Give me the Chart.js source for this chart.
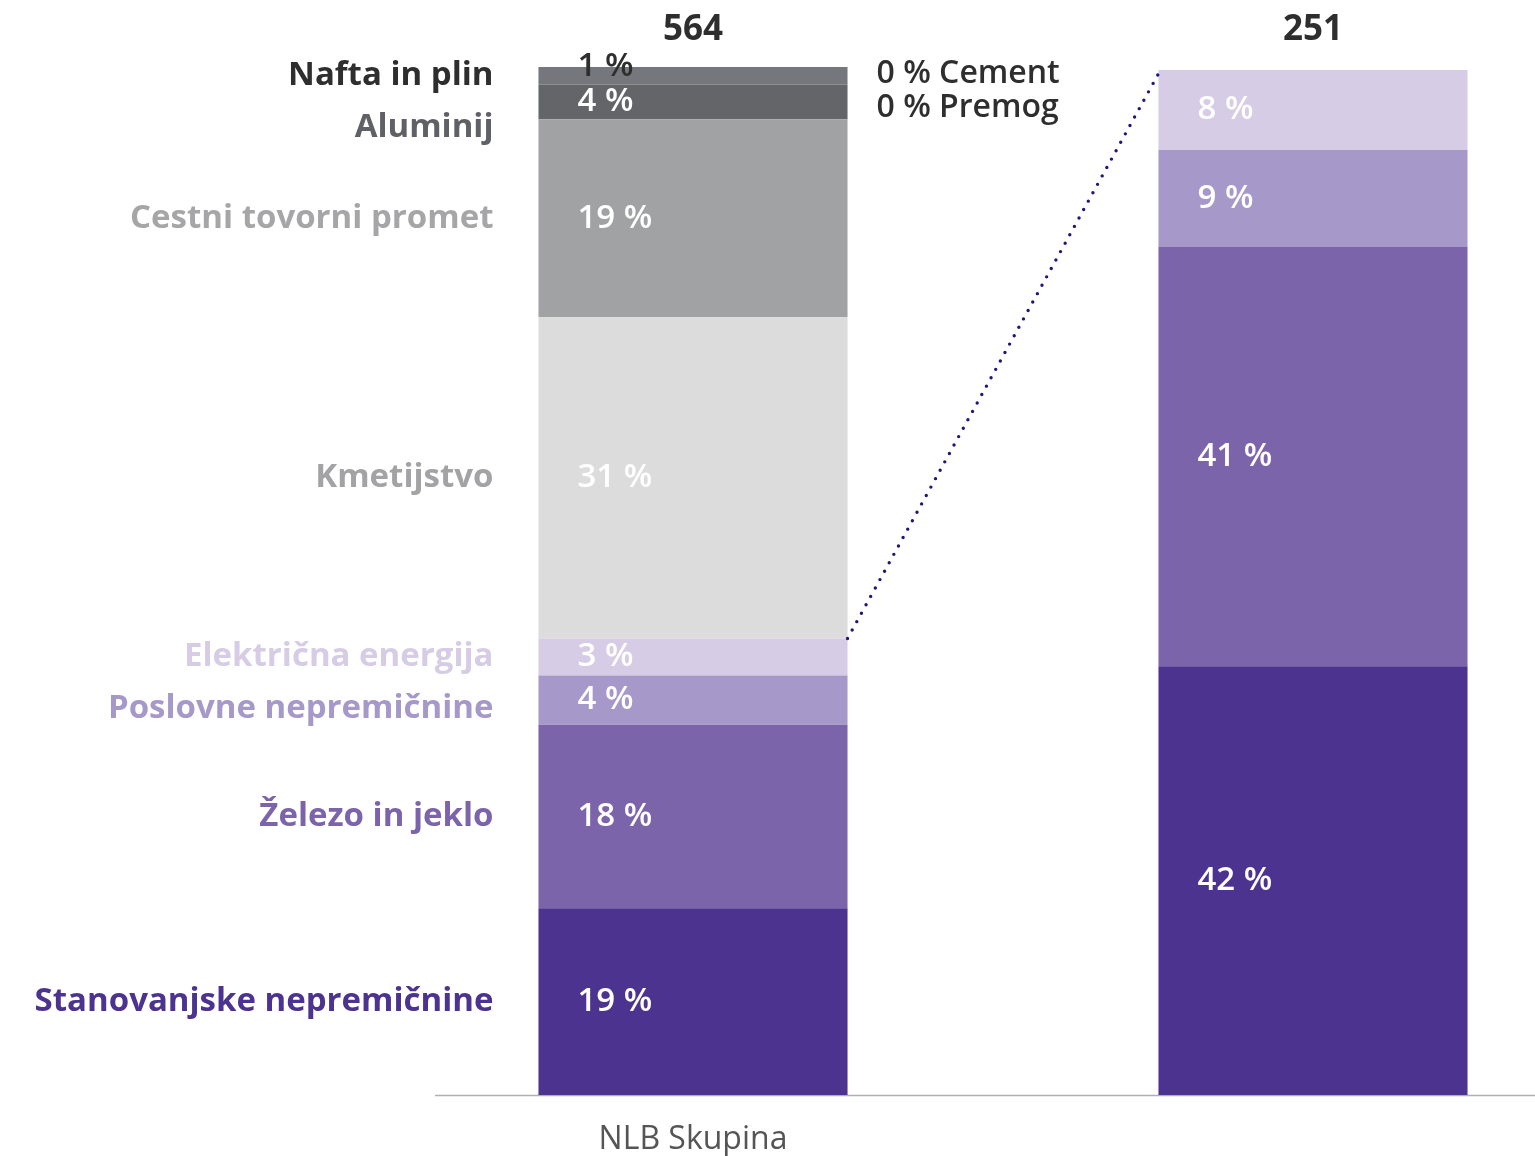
<!doctype html>
<html><head><meta charset="utf-8">
<title>NLB Skupina</title>
<script src="https://cdn.jsdelivr.net/npm/chart.js"></script>
<style>
  html, body { margin: 0; padding: 0; background: #fff; }
  #wrap { width: 1535px; height: 1156px; position: relative; }
</style>
</head><body>
<div id="wrap"><canvas id="sectors"></canvas></div>
<script>
// sectors, bottom to top
const sectors = ['Stanovanjske nepremičnine', 'Železo in jeklo', 'Poslovne nepremičnine', 'Električna energija',
  'Kmetijstvo', 'Cestni tovorni promet', 'Aluminij', 'Nafta in plin'];
// share of the group portfolio (bar heights)
const groupShare = [18.2, 17.9, 4.8, 3.6, 31.3, 19.3, 3.4, 1.7];
const groupText = ['19 %', '18 %', '4 %', '3 %', '31 %', '19 %', '4 %', '1 %'];
// breakdown of the first four sectors (second bar)
const subShare = [41.8, 40.9, 9.4, 7.8, 0, 0, 0, 0];
const subText = ['42 %', '41 %', '9 %', '8 %', '', '', '', ''];
const totals = ['564', '', '251'];
const zeroSectors = ['0 % Cement', '0 % Premog'];
const barLabels = ['NLB Skupina', '', ''];

const fills = ['#4d3390', '#7b64aa', '#a698c9', '#d6cce5', '#dcdcdc', '#a1a2a4', '#636569', '#75777c'];
const labelColors = ['#4d3390', '#7b64aa', '#a698c9', '#d6cce5', '#a3a3a5', '#a6a6a8', '#5f6166', '#2e2e2e'];
const FONT = '"Open Sans", Lato, sans-serif';

const datasets = sectors.map((s, i) => ({
  label: s,
  data: [groupShare[i], null, subShare[i]],
  backgroundColor: fills[i],
  borderWidth: 0,
  texts: [groupText[i], '', subText[i]]
}));

const overlay = {
  id: 'overlay',
  beforeDatasetsDraw(chart) {
    // baseline, running a bit past the bars on both sides
    const ctx = chart.ctx;
    const a = chart.chartArea;
    ctx.save();
    ctx.strokeStyle = '#b0b0b0';
    ctx.lineWidth = 1.5;
    ctx.beginPath();
    ctx.moveTo(a.left - 103, a.bottom + 0.5);
    ctx.lineTo(chart.width, a.bottom + 0.5);
    ctx.stroke();
    ctx.restore();
  },
  afterDatasetsDraw(chart) {
    const ctx = chart.ctx;
    const metas = chart.data.datasets.map((d, i) => chart.getDatasetMeta(i));
    ctx.save();
    ctx.textBaseline = 'middle';

    // values inside bars
    ctx.font = '600 33px ' + FONT;
    ctx.textAlign = 'left';
    metas.forEach((m, i) => {
      m.data.forEach((bar, j) => {
        const txt = chart.data.datasets[i].texts[j];
        if (!txt) return;
        const h = bar.base - bar.y;
        const left = bar.x - bar.width / 2;
        let y = (bar.y + bar.base) / 2;
        ctx.fillStyle = '#ffffff';
        if (h < 25) { y = bar.y; ctx.fillStyle = '#2e2e2e'; }
        ctx.fillText(txt, left + 39, y);
      });
    });

    // sector names left of first bar, pushed apart where crowded
    ctx.font = 'bold 33px ' + FONT;
    ctx.textAlign = 'right';
    const pos = metas.map(m => (m.data[0].y + m.data[0].base) / 2);
    const ys = [];
    for (let i = pos.length - 1; i >= 0; i--) {
      let y = pos[i];
      if (i < pos.length - 1 && y - ys[i + 1] < 52) y = ys[i + 1] + 52;
      ys[i] = y;
    }
    const first = metas[0].data[0];
    const firstLeft = first.x - first.width / 2;
    sectors.forEach((s, i) => {
      ctx.fillStyle = labelColors[i];
      ctx.fillText(s, firstLeft - 45, ys[i]);
    });

    // totals above bars
    ctx.textAlign = 'center';
    ctx.fillStyle = '#2e2e2e';
    ctx.font = 'bold 35px ' + FONT;
    metas[0].data.forEach((bar, j) => {
      if (totals[j]) ctx.fillText(totals[j], bar.x, chart.chartArea.top - 37);
    });

    // zero-share sectors next to first bar
    const firstRight = first.x + first.width / 2;
    ctx.textAlign = 'left';
    ctx.font = '600 32px ' + FONT;
    zeroSectors.forEach((t, k) => {
      ctx.fillText(t, firstRight + 29, chart.chartArea.top + 7 + k * 34);
    });

    // dotted connector: top of first four sectors -> top of breakdown bar
    const from = metas[3].data[0];
    const to = metas[3].data[2];
    ctx.beginPath();
    ctx.strokeStyle = '#24137a';
    ctx.lineWidth = 3.4;
    ctx.lineCap = 'round';
    ctx.setLineDash([0, 9.6]);
    ctx.moveTo(from.x + from.width / 2, from.y);
    ctx.lineTo(to.x - to.width / 2 + 2, to.y);
    ctx.stroke();
    ctx.restore();
  }
};

new Chart(document.getElementById('sectors'), {
  type: 'bar',
  data: { labels: barLabels, datasets },
  options: {
    responsive: true,
    maintainAspectRatio: false,
    animation: false,
    datasets: { bar: { categoryPercentage: 1, barPercentage: 0.997 } },
    layout: { padding: { left: 538, right: 67, top: 67, bottom: 0 } },
    plugins: { legend: { display: false }, tooltip: { enabled: false } },
    scales: {
      x: {
        stacked: true,
        grid: { display: false, drawTicks: false },
        border: { display: false },
        afterFit: axis => { axis.height = 61; },
        ticks: {
          autoSkip: false,
          maxRotation: 0,
          padding: 26,
          color: '#555555',
          font: { family: FONT, size: 32 }
        }
      },
      y: {
        stacked: true,
        min: 0,
        max: 100.2,
        display: false
      }
    }
  },
  plugins: [overlay]
});
</script>
</body></html>
